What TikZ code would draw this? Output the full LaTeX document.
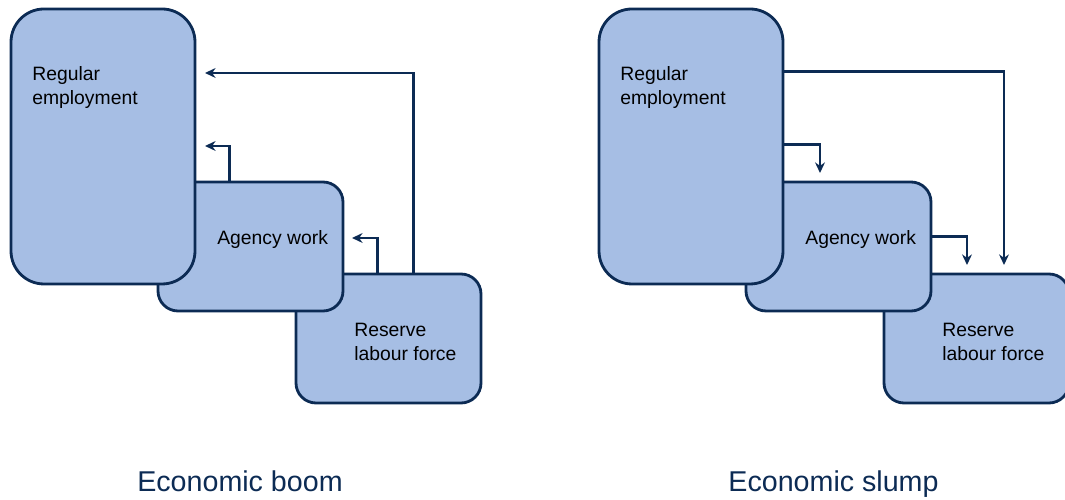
\documentclass[tikz,border=0pt]{standalone}
\usepackage{fontspec}
\setmainfont{Liberation Sans}
\usepackage{tikz}
\usetikzlibrary{arrows.meta}
\usepackage{xcolor}
\definecolor{navy}{RGB}{12,43,84}
\definecolor{boxblue}{RGB}{166,190,228}

\begin{document}
\begin{tikzpicture}[>={Stealth[length=6pt,width=5.6pt]},
    box/.style={draw=navy, fill=boxblue, line width=1.6pt, inner sep=0pt,
        minimum width=3.7cm, minimum height=2.58cm, rounded corners=0.4cm},
    bigbox/.style={box, minimum width=3.68cm, minimum height=5.5cm, rounded corners=0.66cm},
    lbl/.style={font=\fontsize{11}{13.7}\selectfont, align=left, inner sep=0pt},
    title/.style={font=\fontsize{16.3}{19}\selectfont, text=navy, inner sep=0pt, anchor=base},
    arr/.style={->, draw=navy, line width=1.5pt}]
    \useasboundingbox (0,0) rectangle (21.3,10);

    % boom: flows upwards
    \begin{scope}
        \node[box] (res) at (7.77,3.23) {};
        \node[box] (agy) at (5.01,5.07) {};
        \node[bigbox] (reg) at (2.06,7.07) {};
        \node[lbl, anchor=north west] at (0.64,8.68) {Regular\\employment};
        \node[lbl, anchor=base west] at (4.34,5.1) {Agency work};
        \node[lbl, anchor=north west] at (7.08,3.54) {Reserve\\labour force};
        \coordinate (tipreg) at (4.1,8.54);
        \coordinate (tipreg2) at (4.1,7.08);
        \coordinate (tipagy) at (7.04,5.24);
        \draw[arr] ([xshift=2.38cm]res.north west) |- (tipreg);
        \draw[arr] ([xshift=1.46cm]agy.north west) |- (tipreg2);
        \draw[arr] ([xshift=1.66cm]res.north west) |- (tipagy);
        \node[title] (boom) at (4.8,0.16) {Economic boom};
    \end{scope}

    % slump: flows downwards
    \begin{scope}[xshift=11.76cm]
        \node[box] (sres) at (7.77,3.23) {};
        \node[box] (sagy) at (5.01,5.07) {};
        \node[bigbox] (sreg) at (2.06,7.07) {};
        \node[lbl, anchor=north west] at (0.64,8.68) {Regular\\employment};
        \node[lbl, anchor=base west] at (4.34,5.1) {Agency work};
        \node[lbl, anchor=north west] at (7.08,3.54) {Reserve\\labour force};
        \coordinate (tipres) at (8.32,4.7);
        \coordinate (tipagy2) at (4.64,6.54);
        \coordinate (tipres2) at (7.58,4.7);
        \draw[arr] ([yshift=-1.28cm]sreg.north east) -| (tipres);
        \draw[arr] ([yshift=-2.74cm]sreg.north east) -| (tipagy2);
        \draw[arr] ([yshift=-1.12cm]sagy.north east) -| (tipres2);
        \node[title] (slump) at (4.91,0.16) {Economic slump};
    \end{scope}
\end{tikzpicture}
\end{document}
